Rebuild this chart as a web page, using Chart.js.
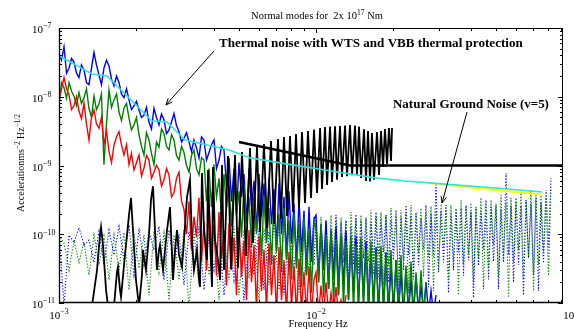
<!DOCTYPE html>
<html>
<head>
<meta charset="utf-8">
<script src="https://cdn.jsdelivr.net/npm/chart.js@4.4.1/dist/chart.umd.min.js"></script>
<style>
  html, body { margin: 0; padding: 0; background: #fff; }
  canvas { display: block; }
</style>
</head>
<body>
<canvas id="modesChart" width="574" height="329"></canvas>
<script>
// frequency grid (Hz) shared by the noise spectra
const freqHz = [
  1.000e-3, 1.046e-3, 1.094e-3, 1.144e-3, 1.196e-3, 1.251e-3, 1.308e-3, 1.368e-3, 1.431e-3, 1.496e-3,
  1.565e-3, 1.637e-3, 1.712e-3, 1.790e-3, 1.872e-3, 1.958e-3, 2.048e-3, 2.141e-3, 2.239e-3, 2.342e-3,
  2.449e-3, 2.562e-3, 2.679e-3, 2.802e-3, 2.930e-3, 3.064e-3, 3.205e-3, 3.351e-3, 3.505e-3, 3.666e-3,
  3.834e-3, 4.009e-3, 4.193e-3, 4.385e-3, 4.586e-3, 4.796e-3, 5.016e-3, 5.245e-3, 5.486e-3, 5.737e-3,
  6.000e-3, 6.275e-3, 6.562e-3, 6.863e-3, 7.177e-3, 7.506e-3, 7.850e-3, 8.210e-3, 8.586e-3, 8.979e-3,
  9.391e-3, 9.822e-3,
  1.000e-2, 1.046e-2, 1.094e-2, 1.144e-2, 1.196e-2, 1.251e-2, 1.308e-2, 1.368e-2, 1.431e-2, 1.496e-2,
  1.565e-2, 1.637e-2, 1.712e-2, 1.790e-2, 1.872e-2, 1.958e-2, 2.048e-2, 2.141e-2, 2.239e-2, 2.342e-2,
  2.449e-2, 2.562e-2, 2.679e-2, 2.802e-2, 2.930e-2, 3.064e-2, 3.205e-2, 3.351e-2, 3.505e-2, 3.666e-2,
  3.834e-2, 4.009e-2, 4.193e-2, 4.385e-2, 4.586e-2, 4.796e-2, 5.016e-2, 5.245e-2, 5.486e-2, 5.737e-2,
  6.000e-2, 6.275e-2, 6.562e-2, 6.863e-2, 7.177e-2, 7.506e-2, 7.850e-2, 8.210e-2, 8.586e-2, 8.979e-2
];
// in-between frequencies (the spectra wiggle between grid points)
const freqHalf = [
  1.023e-3, 1.070e-3, 1.119e-3, 1.170e-3, 1.223e-3, 1.279e-3, 1.338e-3, 1.399e-3, 1.463e-3, 1.530e-3,
  1.601e-3, 1.674e-3, 1.750e-3, 1.831e-3, 1.914e-3, 2.002e-3, 2.094e-3, 2.190e-3, 2.290e-3, 2.395e-3,
  2.505e-3, 2.620e-3, 2.740e-3, 2.865e-3, 2.997e-3, 3.134e-3, 3.277e-3, 3.427e-3, 3.585e-3, 3.749e-3,
  3.921e-3, 4.100e-3, 4.288e-3, 4.484e-3, 4.690e-3, 4.905e-3, 5.130e-3, 5.364e-3, 5.610e-3, 5.867e-3,
  6.136e-3, 6.417e-3, 6.711e-3, 7.019e-3, 7.340e-3, 7.676e-3, 8.028e-3, 8.396e-3, 8.781e-3, 9.183e-3,
  9.604e-3,
  1.023e-2, 1.070e-2, 1.119e-2, 1.170e-2, 1.223e-2, 1.279e-2, 1.338e-2, 1.399e-2, 1.463e-2, 1.530e-2,
  1.601e-2, 1.674e-2, 1.750e-2, 1.831e-2, 1.914e-2, 2.002e-2, 2.094e-2, 2.190e-2, 2.290e-2, 2.395e-2,
  2.505e-2, 2.620e-2, 2.740e-2, 2.865e-2, 2.997e-2, 3.134e-2, 3.277e-2, 3.427e-2, 3.585e-2, 3.749e-2,
  3.921e-2, 4.100e-2, 4.288e-2, 4.484e-2, 4.690e-2, 4.905e-2, 5.130e-2, 5.364e-2, 5.610e-2, 5.867e-2,
  6.136e-2, 6.417e-2, 6.711e-2, 7.019e-2, 7.340e-2, 7.676e-2, 8.028e-2, 8.396e-2, 8.781e-2
];

// thermal noise spectra, solid lines (m s^-2 Hz^-1/2)
const blueSolid = [
  4.3e-8, 5.3e-8, 2.6e-8, 3.2e-8, 1.9e-8, 2.45e-8, 1.5e-8, 4.4e-8, 2.07e-8, 2.6e-8,
  2.8e-8, 1.44e-8, 1.6e-8, 9.7e-9, 9.0e-9, 7.4e-9, 6.4e-9, 5.4e-9, 4.3e-9, 6.8e-9,
  3.9e-9, 4.6e-9, 3.3e-9, 5.7e-9, 3.1e-9, 2.5e-9, 2.2e-9, 2.35e-9, 1.29e-9, 2.35e-9,
  1.55e-9, 2.35e-9, 1.2e-9, 1.68e-9, 1.3e-9, 9.0e-10, 1.1e-9, 7.5e-10, 9.0e-10, 6.0e-10,
  7.5e-10, 5.5e-10, 6.5e-10, 4.5e-10, 5.5e-10, 3.5e-10, 4.2e-10, 2.8e-10, 3.3e-10, 2.2e-10,
  2.5e-10, 1.7e-10,
  1.9e-10, 1.4e-10, 1.6e-10, 1.1e-10, 1.3e-10, 9.0e-11, 1.1e-10, 8.0e-11, 9.5e-11, 6.5e-11,
  8.0e-11, 5.5e-11, 6.5e-11, 4.5e-11, 5.5e-11, 3.5e-11, 4.2e-11, 2.8e-11, 3.2e-11, 2.2e-11,
  2.5e-11, 1.8e-11, 2.0e-11, 1.5e-11, 1.3e-11, null, null, null, null, null,
  null, null, null, null, null, null, null, null, null, null,
  null, null, null, null, null, null, null, null, null, null
];
const blueSolidHalf = [
  3.4e-8, 2.2e-8, 3.6e-8, 2.2e-8, 2.9e-8, 1.6e-8, 2.6e-8, 2.9e-8, 1.5e-8, 3.4e-8,
  1.8e-8, 2.0e-8, 1.1e-8, 1.3e-8, 6.5e-9, 8.6e-9, 5.0e-9, 7.0e-9, 3.4e-9, 5.0e-9,
  5.6e-9, 2.9e-9, 4.3e-9, 3.8e-9, 2.2e-9, 3.0e-9, 1.6e-9, 1.8e-9, 2.6e-9, 1.2e-9,
  2.0e-9, 9.0e-10, 1.9e-9, 5.0e-10, 3.0e-10, 2.0e-10, 3.5e-10, 1.5e-10, 2.5e-10, 1.1e-10,
  1.8e-10, 8.0e-11, 1.4e-10, 6.0e-11, 1.0e-10, 4.5e-11, 7.5e-11, 3.5e-11, 5.5e-11, 2.6e-11,
  4.0e-11,
  2.0e-11, 3.0e-11, 1.6e-11, 2.2e-11, 1.3e-11, 1.8e-11, 1.1e-11, 1.4e-11, 9e-12, 1.2e-11,
  8e-12, 1.0e-11, 7e-12, 9e-12, 7e-12, 8e-12, 7e-12, 7e-12, 7e-12, 7e-12,
  7e-12, 7e-12, 7e-12, 7e-12, null, null, null, null, null, null,
  null, null, null, null, null, null, null, null, null, null,
  null, null, null, null, null, null, null, null, null
];
const redSolid = [
  9.0e-9, 1.9e-8, 1.07e-8, 7.4e-9, 6.2e-9, 8.1e-9, 2.35e-9, 6.4e-9, 3.5e-9, 2.0e-9,
  1.6e-9, 2.0e-9, 3.1e-9, 1.42e-9, 1.03e-9, 8.6e-10, 1.42e-9, 9.2e-10, 1.2e-9, 8.0e-10,
  8.6e-10, 6.2e-10, 7.3e-10, 4.0e-10, 8.0e-10, 2.3e-10, 3.0e-10, 1.8e-10, 3.4e-10, 1.5e-10,
  2.4e-10, 1.36e-10, 2.1e-10, 1.1e-10, 1.45e-10, 9.0e-11, 1.25e-10, 8.0e-11, 1.15e-10, 7.0e-11,
  9.5e-11, 6.0e-11, 7.5e-11, 5.0e-11, 6.5e-11, 4.2e-11, 5.5e-11, 3.5e-11, 4.4e-11, 2.8e-11,
  3.3e-11, 2.2e-11,
  2.8e-11, 1.8e-11, 2.0e-11, 1.4e-11, 1.7e-11, 1.1e-11, 1.3e-11, null, null, null,
  null, null, null, null, null, null, null, null, null, null,
  null, null, null, null, null, null, null, null, null, null,
  null, null, null, null, null, null, null, null, null, null,
  null, null, null, null, null, null, null, null, null, null
];
const redSolidHalf = [
  1.3e-8, 1.3e-8, 6.5e-9, 1.0e-8, 4.8e-9, 4.0e-9, 5.0e-9, 4.0e-9, 5.0e-9, 3.2e-9,
  1.1e-9, 2.6e-9, 2.0e-9, 2.0e-9, 1.5e-9, 1.1e-9, 7.0e-10, 1.4e-9, 6.5e-10, 1.0e-9,
  5.0e-10, 9.0e-10, 3.5e-10, 6.5e-10, 3.0e-10, 1.0e-10, 6.0e-11, 9.0e-11, 4.0e-11, 3.0e-11,
  6.5e-11, 2.5e-11, 4.5e-11, 1.8e-11, 3.0e-11, 1.3e-11, 2.4e-11, 1.1e-11, 2.0e-11, 8e-12,
  1.5e-11, 8e-12, 1.3e-11, 7e-12, 1.1e-11, 7e-12, 9e-12, 7e-12, 8e-12, 7e-12,
  7e-12,
  7e-12, 7e-12, 7e-12, 7e-12, 7e-12, 7e-12, null, null, null, null,
  null, null, null, null, null, null, null, null, null, null,
  null, null, null, null, null, null, null, null, null, null,
  null, null, null, null, null, null, null, null, null, null,
  null, null, null, null, null, null, null, null, null
];
const greenSolid = [
  7.6e-9, 1.35e-8, 1.6e-8, 1.02e-8, 1.15e-8, 9.7e-9, 6.8e-9, 1.02e-8, 7.9e-9, 1.03e-9,
  1.25e-8, 9.0e-9, 6.0e-9, 6.8e-9, 4.9e-9, 3.9e-9, 2.8e-9, 1.42e-9, 2.35e-9, 1.03e-9,
  1.85e-9, 2.9e-9, 1.68e-9, 2.35e-9, 1.2e-9, 1.55e-9, 8.0e-10, 1.68e-9, 7.3e-10, 1.2e-9,
  9.0e-10, 1.03e-9, 6.5e-10, 7.5e-10, 5.0e-10, 6.2e-10, 4.2e-10, 5.2e-10, 3.5e-10, 4.4e-10,
  2.8e-10, 3.7e-10, 2.4e-10, 3.15e-10, 2.0e-10, 2.4e-10, 1.6e-10, 2.0e-10, 1.4e-10, 1.75e-10,
  1.2e-10, 1.55e-10,
  1.2e-10, 1.4e-10, 1.0e-10, 1.15e-10, 8.5e-11, 1.04e-10, 8.0e-11, 9.5e-11, 7.0e-11, 9.0e-11,
  6.0e-11, 7.9e-11, 5.5e-11, 6.8e-11, 4.8e-11, 5.9e-11, 4.2e-11, 5.0e-11, 3.5e-11, 4.0e-11,
  2.8e-11, 3.0e-11, 2.0e-11, null, null, null, null, null, null, null,
  null, null, null, null, null, null, null, null, null, null,
  null, null, null, null, null, null, null, null, null, null
];
const greenSolidHalf = [
  1.6e-8, 9.5e-9, 1.2e-8, 7.5e-9, 8.0e-9, 1.3e-8, 5.0e-9, 6.5e-9, 1.1e-8, 4.0e-9,
  7.0e-9, 1.1e-8, 4.5e-9, 8.0e-9, 3.3e-9, 5.0e-9, 1.9e-9, 3.0e-9, 1.5e-9, 2.2e-9,
  3.4e-9, 1.9e-9, 2.8e-9, 1.4e-9, 1.9e-9, 1.0e-9, 1.4e-9, 9.0e-10, 1.3e-9, 3.0e-10,
  2.5e-10, 3.5e-10, 1.8e-10, 2.4e-10, 1.3e-10, 1.9e-10, 9.0e-11, 1.4e-10, 6.5e-11, 1.0e-10,
  4.8e-11, 7.5e-11, 3.6e-11, 5.5e-11, 2.8e-11, 4.2e-11, 2.2e-11, 3.2e-11, 1.7e-11, 2.5e-11,
  1.4e-11,
  2.0e-11, 1.2e-11, 1.6e-11, 1.0e-11, 1.3e-11, 9e-12, 1.1e-11, 8e-12, 1.0e-11, 8e-12,
  9e-12, 7e-12, 8e-12, 7e-12, 8e-12, 7e-12, 7e-12, 7e-12, 7e-12, 7e-12,
  7e-12, 7e-12, null, null, null, null, null, null, null, null,
  null, null, null, null, null, null, null, null, null, null,
  null, null, null, null, null, null, null, null, null
];

// natural ground noise (v=5), dotted lines
const blueDotted = [
  1.1e-10, 9e-12, 9.7e-11, 7.6e-11, 1.26e-10, 7.0e-11, 8.2e-11, 3.9e-11, 1.1e-10, 3.6e-11,
  1.15e-10, 5.0e-11, 1.3e-10, 4.2e-11, 1.36e-10, 2.55e-11, 1.22e-10, 3.6e-11, 1.1e-10, 5.9e-11,
  1.3e-10, 2.16e-11, 1.15e-10, 3.9e-11, 1.0e-10, 1.83e-11, 1.1e-10, 3.2e-11, 1.3e-10, 1.55e-11,
  1.04e-10, 3.0e-11, 1.22e-10, 1.3e-11, 1.0e-10, 2.16e-11, 1.15e-10, 1.1e-11, 9.8e-11, 2.55e-11,
  1.22e-10, 1.55e-11, 1.1e-10, 3.0e-11, 1.36e-10, 1.3e-11, 1.4e-10, 3.2e-11, 1.61e-10, 1.83e-11,
  1.55e-10, 3.6e-11,
  1.75e-10, 1.4e-10, 1.55e-10, 1.3e-10, 1.9e-10, 1.5e-10, 1.6e-10, 1.3e-10, 1.95e-10, 1.6e-10,
  1.75e-10, 1.5e-10, 2.1e-10, 1.7e-10, 1.9e-10, 1.6e-10, 2.25e-10, 1.8e-10, 2.66e-10, 1.9e-10,
  2.1e-10, 1.7e-10, 2.66e-10, 2.0e-10, 5.5e-10, 2.2e-10, 2.66e-10, 2.0e-10, 2.25e-10, 2.4e-10,
  2.66e-10, 2.1e-10, 2.4e-10, 2.2e-10, 3.15e-10, 2.5e-10, 2.66e-10, 2.3e-10, 7.7e-10, 2.6e-10,
  3.4e-10, 2.6e-10, 3.15e-10, 2.8e-10, 3.7e-10, 2.9e-10, 4.4e-10, 6.6e-10, null, null
];
const blueDottedHalf = [
  null, null, null, null, null, null, null, null, null, null,
  null, null, null, null, null, null, null, null, null, null,
  null, null, null, null, null, null, null, null, null, null,
  null, null, null, null, null, null, null, null, null, null,
  null, null, null, null, null, null, null, null, null, null,
  null,
  2.5e-11, 4.0e-11, 1.6e-11, 3.3e-11, 2.2e-11, 5.0e-11, 1.8e-11, 3.6e-11, 2.6e-11, 4.5e-11,
  1.5e-11, 3.9e-11, 2.4e-11, 5.5e-11, 2.0e-11, 4.2e-11, 1.3e-11, 3.0e-11, 5.0e-11, 2.2e-11,
  3.6e-11, 6.0e-11, 1.7e-11, 4.7e-11, 2.8e-11, 3.9e-11, 1.4e-11, 3.0e-11, 5.5e-11, 2.5e-11,
  4.2e-11, 1.2e-11, 3.5e-11, 6.0e-11, 2.2e-11, 4.0e-11, 1.6e-11, 3.9e-11, 5.0e-11, 2.0e-11,
  3.6e-11, 1.3e-11, 4.5e-11, 2.6e-11, 1.5e-11, 3.8e-11, 6.5e-11, null, null
];
const greenDotted = [
  9.7e-11, 7.4e-11, 3.0e-11, 8.2e-11, 3.9e-11, 7.6e-11, 2.55e-11, 9.8e-11, 3.6e-11, 9.4e-11,
  2.16e-11, 9.8e-11, 3.0e-11, 1.06e-10, 1.55e-11, 1.04e-10, 3.2e-11, 9.8e-11, 1.3e-11, 1.1e-10,
  2.8e-11, 1.04e-10, 1.1e-11, 9.8e-11, 2.16e-11, 1.15e-10, 8e-12, 1.1e-10, 1.83e-11, 1.22e-10,
  2.55e-11, 9.8e-11, 1.1e-11, 1.15e-10, 2.16e-11, 1.3e-10, 1.3e-11, 1.15e-10, 2.3e-11, 1.4e-10,
  1.1e-11, 1.22e-10, 1.83e-11, 1.55e-10, 1.55e-11, 1.4e-10, 2.55e-11, 1.61e-10, 1.3e-11, 1.55e-10,
  3.0e-11, 1.75e-10,
  1.6e-10, 1.8e-10, 1.45e-10, 1.9e-10, 1.6e-10, 1.75e-10, 1.5e-10, 2.1e-10, 1.7e-10, 1.9e-10,
  1.7e-10, 2.25e-10, 1.8e-10, 2.1e-10, 1.9e-10, 2.4e-10, 1.9e-10, 2.25e-10, 2.0e-10, 2.66e-10,
  2.0e-10, 2.4e-10, 2.1e-10, 2.55e-10, 2.2e-10, 2.75e-10, 2.3e-10, 2.66e-10, 2.4e-10, 3.15e-10,
  2.5e-10, 2.85e-10, 2.5e-10, 3.4e-10, 2.7e-10, 3.15e-10, 2.8e-10, 3.7e-10, 2.9e-10, 3.4e-10,
  3.0e-10, 4.0e-10, 3.1e-10, 4.4e-10, 3.3e-10, 3.7e-10, 3.4e-10, 4.8e-10, null, null
];
const greenDottedHalf = [
  null, null, null, null, null, null, null, null, null, null,
  null, null, null, null, null, null, null, null, null, null,
  null, null, null, null, null, null, null, null, null, null,
  null, null, null, null, null, null, null, null, null, null,
  null, null, null, null, null, null, null, null, null, null,
  null,
  3.6e-11, 1.4e-11, 3.2e-11, 5.5e-11, 2.2e-11, 3.9e-11, 1.6e-11, 4.5e-11, 3.0e-11, 1.2e-11,
  4.0e-11, 2.6e-11, 5.0e-11, 1.8e-11, 3.6e-11, 6.0e-11, 2.0e-11, 4.2e-11, 1.4e-11, 3.3e-11,
  5.5e-11, 2.4e-11, 4.7e-11, 1.5e-11, 3.0e-11, 6.5e-11, 2.2e-11, 4.0e-11, 1.3e-11, 3.6e-11,
  5.0e-11, 2.0e-11, 4.5e-11, 1.6e-11, 3.3e-11, 7.0e-11, 2.4e-11, 4.2e-11, 1.2e-11, 3.9e-11,
  6.0e-11, 2.2e-11, 4.5e-11, 1.5e-11, 3.6e-11, 5.5e-11, 2.5e-11, null, null
];

// normal modes for 2x10^17 Nm (black)
const modeFreq = [
  1.344e-3, 1.406e-3, 1.444e-3, 1.457e-3, 1.483e-3, 1.524e-3, 1.551e-3,
  1.637e-3, 1.681e-3, 1.696e-3, 1.727e-3, 1.743e-3, 1.806e-3, 1.872e-3, 1.906e-3, 1.940e-3, 1.993e-3, 2.048e-3,
  2.103e-3, 2.122e-3, 2.180e-3, 2.239e-3, 2.280e-3, 2.321e-3, 2.363e-3, 2.406e-3, 2.449e-3, 2.471e-3,
  2.516e-3, 2.539e-3, 2.632e-3, 2.703e-3, 2.752e-3, 2.777e-3, 2.827e-3, 2.878e-3, 2.930e-3, 3.010e-3,
  3.064e-3, 3.148e-3, 3.233e-3, 3.292e-3, 3.351e-3, 3.443e-3, 3.505e-3, 3.537e-3, 3.600e-3, 3.666e-3,
  3.766e-3, 3.800e-3, 3.868e-3, 3.938e-3, 3.974e-3, 4.046e-3, 4.156e-3, 4.231e-3, 4.307e-3, 4.385e-3,
  4.545e-3, 4.669e-3, 4.839e-3, 4.971e-3, 5.152e-3, 5.340e-3, 5.535e-3, 5.686e-3, 5.893e-3, 6.054e-3,
  6.275e-3, 6.446e-3, 6.681e-3, 6.863e-3, 7.113e-3, 7.307e-3, 7.506e-3, 7.711e-3, 7.921e-3, 8.137e-3,
  8.358e-3, 8.586e-3, 8.820e-3, 9.060e-3, 9.307e-3, 9.562e-3, 9.822e-3, 1.009e-2, 1.037e-2, 1.055e-2,
  1.084e-2, 1.104e-2, 1.134e-2, 1.154e-2, 1.186e-2, 1.207e-2, 1.240e-2, 1.262e-2, 1.297e-2, 1.320e-2,
  1.356e-2, 1.381e-2, 1.418e-2, 1.444e-2, 1.470e-2, 1.497e-2, 1.537e-2, 1.565e-2, 1.593e-2, 1.622e-2,
  1.651e-2, 1.681e-2, 1.727e-2, 1.758e-2, 1.790e-2, 1.823e-2, 1.855e-2, 1.889e-2, 1.923e-2, 1.958e-2,
  1.976e-2
];
const modeVal = [
  9e-12, 3.02e-11, 9.75e-11, 1.27e-10, 7.0e-11, 1.55e-11, 9e-12,
  9e-12, 2.83e-11, 3.34e-11, 1.55e-11, 1.22e-11, 4.99e-11, 1.9e-10, 3.37e-10, 1.15e-10, 2.16e-11, 9e-12,
  2.55e-11, 5.9e-11, 3.02e-11, 9.75e-11, 3.15e-10, 5.0e-10, 1.15e-10, 3.02e-11, 5.9e-11, 6.98e-11,
  3.95e-11, 3.02e-11, 1.15e-10, 2.49e-10, 4.99e-11, 2.16e-11, 5.9e-11, 1.15e-10, 4.99e-11, 3.34e-11,
  8.25e-11, 3.48e-10, 6.2e-10, 8.25e-11, 3.02e-11, 5.9e-11, 2.16e-11, 1.71e-11, 7.8e-10, 1.15e-10,
  4.22e-11, 8.6e-10, 8.25e-11, 1.71e-11, 9.5e-10, 8.25e-11, 4.22e-11, 2.16e-11, 1.02e-9, 3.02e-11,
  1.37e-9, 3.12e-11, 1.42e-9, 3.23e-11, 1.57e-9, 4.83e-11, 1.80e-9, 7.46e-11, 1.86e-9, 1.08e-10,
  2.05e-9, 1.23e-10, 2.27e-9, 1.41e-10, 2.43e-9, 1.67e-10, 2.60e-9, 1.84e-10, 2.69e-9, 2.11e-10,
  2.87e-9, 2.41e-10, 3.07e-9, 2.85e-10, 3.18e-9, 3.37e-10, 3.34e-9, 3.98e-10, 3.51e-9, 4.55e-10,
  3.63e-9, 5.2e-10, 3.70e-9, 5.75e-10, 3.73e-9, 6.2e-10, 3.75e-9, 6.8e-10, 3.82e-9, 7.0e-10,
  3.88e-9, 7.2e-10, 3.80e-9, 7.3e-10, 3.70e-9, 6.6e-10, 3.35e-9, 5.95e-10, 3.18e-9, 5.85e-10,
  2.97e-9, 6.2e-10, 3.07e-9, 7.3e-10, 3.18e-9, 9.5e-10, 3.40e-9, 1.05e-9, 3.51e-9, 1.16e-9,
  3.51e-9
];

// thermal noise model with WTS and VBB protection
const modelFreq = [1.0e-3, 1.344e-3, 1.537e-3, 2.301e-3, 2.632e-3, 3.092e-3, 4.586e-3, 5.535e-3, 8.066e-3, 1.084e-2, 1.696e-2, 2.220e-2, 2.828e-2, 4.971e-2, 7.576e-2];
const modelVal  = [3.95e-8, 2.14e-8, 2.0e-8, 4.44e-9, 4.29e-9, 2.35e-9, 1.68e-9, 1.29e-9, 1.02e-9, 8.6e-10, 6.6e-10, 5.95e-10, 5.55e-10, 4.71e-10, 4.12e-10];
const yellowFreq = [2.828e-2, 4.971e-2, 7.576e-2];
const yellowVal  = [5.5e-10, 4.4e-10, 3.79e-10];

// black reference level
const levelFreq = [5.016e-3, 1.356e-2, 1.0e-1];
const levelVal  = [2.2e-9, 1.0e-9, 1.0e-9];

const xMin = 1e-3, xMax = 0.0914;
const yMin = 1e-11, yMax = 1e-7;

const serif = '"Liberation Serif", "Times New Roman", serif';

function pts(xs, ys) {
  return xs.map((f, i) => ({ x: f, y: ys[i] })).filter(p => p.y != null);
}

// main grid plus the in-between readings, in frequency order
function merged(ys, halfYs) {
  return pts(freqHz, ys).concat(pts(freqHalf, halfYs)).sort((p, q) => p.x - q.x);
}

function line(label, data, color, width, order, dash) {
  return {
    label: label,
    data: data,
    showLine: true,
    borderColor: color,
    backgroundColor: color,
    borderWidth: width,
    borderDash: dash || [],
    pointRadius: 0,
    order: order
  };
}

function supText(ctx, parts, x, y, size, align, bold) {
  const w = bold ? 'bold ' : '';
  let total = 0;
  const widths = parts.map(p => {
    ctx.font = w + (p[1] ? size * 0.72 : size) + 'px ' + serif;
    const m = ctx.measureText(p[0]).width;
    total += m;
    return m;
  });
  let cx = x;
  if (align === 'center') cx = x - total / 2;
  else if (align === 'right') cx = x - total;
  parts.forEach((p, i) => {
    ctx.font = w + (p[1] ? size * 0.72 : size) + 'px ' + serif;
    ctx.fillText(p[0], cx, p[1] ? y - size * 0.42 : y);
    cx += widths[i];
  });
}

function fitText(ctx, text, x, y, width) {
  ctx.font = 'bold 10px ' + serif;
  const s = 10 * width / ctx.measureText(text).width;
  ctx.font = 'bold ' + s.toFixed(2) + 'px ' + serif;
  ctx.fillText(text, x, y);
}

function arrow(ctx, x1, y1, x2, y2) {
  ctx.beginPath();
  ctx.moveTo(x1, y1);
  ctx.lineTo(x2, y2);
  const a = Math.atan2(y2 - y1, x2 - x1);
  const len = 7;
  ctx.moveTo(x2 - len * Math.cos(a - 0.4), y2 - len * Math.sin(a - 0.4));
  ctx.lineTo(x2, y2);
  ctx.lineTo(x2 - len * Math.cos(a + 0.4), y2 - len * Math.sin(a + 0.4));
  ctx.stroke();
}

const frame = {
  id: 'frame',
  afterDatasetsDraw(chart) {
    const { ctx, chartArea: a, scales: { x, y } } = chart;
    ctx.save();
    ctx.strokeStyle = '#000';
    ctx.fillStyle = '#000';
    ctx.lineWidth = 1;

    // box
    ctx.strokeRect(a.left + 0.5, a.top + 0.5, a.right - a.left - 1, a.bottom - a.top - 1);
    ctx.lineWidth = 1.3;
    ctx.beginPath();
    ctx.moveTo(a.left + 0.5, a.top);
    ctx.lineTo(a.left + 0.5, a.bottom - 0.5);
    ctx.lineTo(a.right, a.bottom - 0.5);
    ctx.stroke();

    // inward log ticks
    ctx.lineWidth = 1;
    ctx.beginPath();
    for (let e = -3; e <= -2; e++) {
      for (let m = 1; m <= 9; m++) {
        const v = m * Math.pow(10, e);
        if (v < xMin * 0.999 || v > xMax) continue;
        const px = Math.round(x.getPixelForValue(v)) + 0.5;
        const len = m === 1 ? 5 : 3;
        ctx.moveTo(px, a.bottom); ctx.lineTo(px, a.bottom - len);
        ctx.moveTo(px, a.top); ctx.lineTo(px, a.top + len);
      }
    }
    for (let e = -11; e <= -7; e++) {
      for (let m = 1; m <= 9; m++) {
        const v = m * Math.pow(10, e);
        if (v < yMin * 0.999 || v > yMax * 1.001) continue;
        const py = Math.round(y.getPixelForValue(v)) + 0.5;
        const len = m === 1 ? 5 : 3;
        ctx.moveTo(a.left, py); ctx.lineTo(a.left + len, py);
        ctx.moveTo(a.right, py); ctx.lineTo(a.right - len, py);
      }
    }
    ctx.stroke();

    // tick labels
    ctx.textBaseline = 'alphabetic';
    ctx.textAlign = 'left';
    for (let e = -11; e <= -7; e++) {
      const py = y.getPixelForValue(Math.pow(10, e));
      ctx.font = '11px ' + serif;
      const wb = ctx.measureText('10').width;
      supText(ctx, [['10', false], ['\u2212' + (-e), true]], 43 - wb, py + 5, 11, 'left');
    }
    for (let e = -3; e <= -1; e++) {
      const px = x.getPixelForValue(Math.pow(10, e));
      supText(ctx, [['10', false], ['\u2212' + (-e), true]], px, 319, 11, 'center');
    }

    // axis titles and chart title
    supText(ctx, [['Frequency Hz', false]], 318, 327, 10.5, 'center');
    supText(ctx, [['Normal modes for  2x 10', false], ['17', true], [' Nm', false]], 317, 19, 10.5, 'center');
    ctx.save();
    ctx.translate(24, 163);
    ctx.rotate(-Math.PI / 2);
    supText(ctx, [['Accelerationms', false], ['\u22122', true], [' Hz', false], ['\u22121/2', true]], 0, 0, 10, 'center');
    ctx.restore();

    // annotations
    ctx.lineWidth = 1;
    arrow(ctx, x.getPixelForValue(4.009e-3), y.getPixelForValue(4.63e-8),
               x.getPixelForValue(2.608e-3), y.getPixelForValue(7.59e-9));
    arrow(ctx, x.getPixelForValue(3.868e-2), y.getPixelForValue(6.0e-9),
               x.getPixelForValue(3.093e-2), y.getPixelForValue(2.85e-10));
    ctx.textBaseline = 'middle';
    fitText(ctx, 'Thermal noise with WTS and VBB thermal protection',
            x.getPixelForValue(4.193e-3), y.getPixelForValue(5.85e-8), 304);
    fitText(ctx, 'Natural Ground Noise (v=5)',
            x.getPixelForValue(1.993e-2), y.getPixelForValue(7.59e-9), 156);
    ctx.restore();
  }
};

const datasets = [
  line('Model', pts(modelFreq, modelVal), '#30e3d6', 1.6, 0),
  line('Model (yellow)', pts(yellowFreq, yellowVal), '#ffff00', 2, 1),
  line('Level', pts(levelFreq, levelVal), '#000000', 2.4, 2),
  line('Normal modes', pts(modeFreq, modeVal), '#000000', 1.8, 3),
  line('Red', merged(redSolid, redSolidHalf), '#ff0000', 1.4, 4),
  line('Green', merged(greenSolid, greenSolidHalf), '#008000', 1.4, 5),
  line('Blue', merged(blueSolid, blueSolidHalf), '#0000ff', 1.4, 6),
  line('Green ground noise', merged(greenDotted, greenDottedHalf), '#008000', 1.1, 7, [1.2, 1.8]),
  line('Blue ground noise', merged(blueDotted, blueDottedHalf), '#0000ff', 1.1, 8, [1.2, 1.8])
];

new Chart(document.getElementById('modesChart').getContext('2d'), {
  type: 'scatter',
  data: { datasets: datasets },
  options: {
    responsive: false,
    animation: false,
    devicePixelRatio: 1,
    layout: { padding: { left: 59, right: 11, top: 28, bottom: 26 } },
    plugins: { legend: { display: false }, tooltip: { enabled: false } },
    scales: {
      x: { type: 'logarithmic', min: xMin, max: xMax, display: false },
      y: { type: 'logarithmic', min: yMin, max: yMax, display: false }
    }
  },
  plugins: [frame]
});
</script>
</body>
</html>
